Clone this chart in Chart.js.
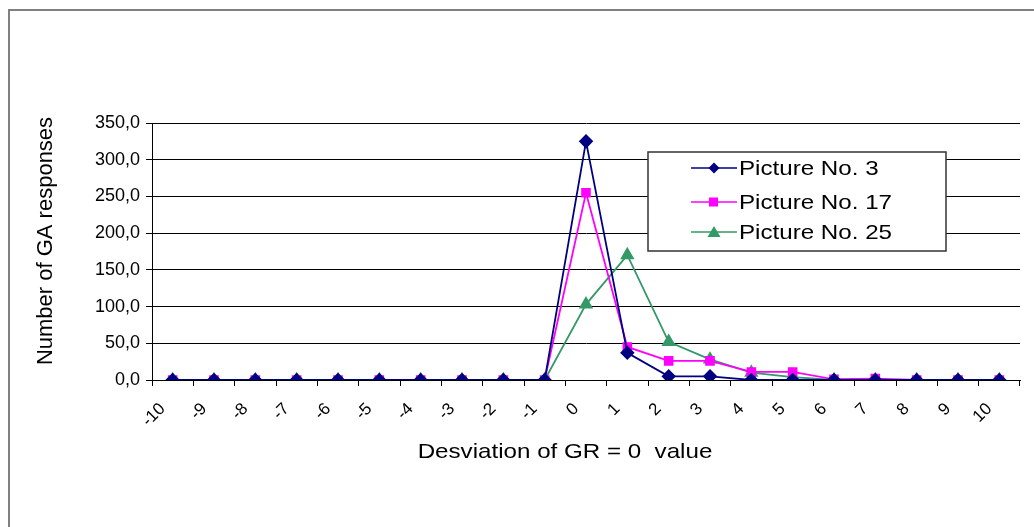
<!DOCTYPE html>
<html lang="en">
<head>
    <meta charset="UTF-8">
    <title>GA responses</title>
    <script src="https://cdn.jsdelivr.net/npm/chart.js"></script>
    <style>
        body {
            margin: 0;
            overflow: hidden;
            background: #fff;
        }
        #wrap {
            position: relative;
            width: 1034px;
            height: 527px;
            overflow: hidden;
        }
        #frame {
            position: absolute;
            left: 8px;
            top: 9px;
            width: 2000px;
            height: 2000px;
            border: 2px solid #808080;
        }
        #myChart {
            position: absolute;
            left: 0;
            top: 0;
        }
    </style>
</head>
<body>
    <div id="wrap">
        <div id="frame"></div>
        <canvas id="myChart" width="1034" height="527"></canvas>
    </div>

    <script>
        const categories = ['-10', '-9', '-8', '-7', '-6', '-5', '-4', '-3', '-2', '-1', '0', '1', '2', '3', '4', '5', '6', '7', '8', '9', '10'];
        const picture3 = [0, 0, 0, 0, 0, 0, 0, 0, 0, 0, 325, 37, 5, 5, 0, 0, 0, 0, 0, 0, 0];
        const picture17 = [0, 0, 0, 0, 0, 0, 0, 0, 0, 0, 255, 45, 26, 26, 11, 11, 1, 2, 0, 0, 0];
        const picture25 = [0, 0, 0, 0, 0, 0, 0, 0, 0, 0, 103, 170, 52, 28, 10, 4, 0, 0, 0, 0, 0];
        const yTicks = [0, 50, 100, 150, 200, 250, 300, 350];

        const font = 'Liberation Sans, Arial, sans-serif';
        // the original picture is a bit wider than tall, so stretch drawn text a little
        const stretch = 1.15;

        // axis titles and the boxed legend inside the plot
        const extras = {
            id: 'extras',
            afterDatasetsDraw(chart) {
                const c = chart.ctx;
                c.save();
                c.fillStyle = '#000';
                c.font = '21px ' + font;
                c.textAlign = 'center';
                c.textBaseline = 'middle';
                c.save();
                c.translate(565, 452);
                c.scale(stretch, 1);
                c.fillText('Desviation of GR = 0  value', 0, 0);
                c.restore();
                c.font = '22px ' + font;
                c.translate(46, 241);
                c.rotate(-Math.PI / 2);
                c.fillText('Number of GA responses', 0, 0);
                c.restore();

                c.save();
                c.fillStyle = '#fff';
                c.fillRect(648, 152, 298, 99);
                c.strokeStyle = '#333';
                c.lineWidth = 1.5;
                c.strokeRect(648, 152, 298, 99);
                c.font = '21px ' + font;
                c.textBaseline = 'middle';
                c.textAlign = 'left';
                const rows = [168, 202, 232];
                chart.data.datasets.forEach((ds, i) => {
                    const y = rows[i];
                    c.strokeStyle = ds.borderColor;
                    c.lineWidth = 1.5;
                    c.beginPath();
                    c.moveTo(691, y);
                    c.lineTo(737, y);
                    c.stroke();
                    c.fillStyle = ds.borderColor;
                    c.beginPath();
                    if (ds.pointStyle === 'rectRot') {
                        c.moveTo(714, y - 5.5); c.lineTo(719.5, y); c.lineTo(714, y + 5.5); c.lineTo(708.5, y);
                    } else if (ds.pointStyle === 'rect') {
                        c.rect(709, y - 4.5, 9, 9);
                    } else {
                        c.moveTo(714, y - 6); c.lineTo(720.5, y + 5); c.lineTo(707.5, y + 5);
                    }
                    c.closePath();
                    c.fill();
                    c.fillStyle = '#000';
                    c.save();
                    c.translate(739, y + 1);
                    c.scale(stretch, 1);
                    c.fillText(ds.label, 0, 0);
                    c.restore();
                });
                c.restore();
            }
        };

        const ctx = document.getElementById('myChart').getContext('2d');
        const myChart = new Chart(ctx, {
            type: 'line',
            data: {
                labels: categories,
                datasets: [{
                    label: 'Picture No. 3',
                    data: picture3,
                    borderColor: '#000080',
                    backgroundColor: '#000080',
                    borderWidth: 1.8,
                    pointStyle: 'rectRot',
                    pointRadius: 6,
                    tension: 0
                }, {
                    label: 'Picture No. 17',
                    data: picture17,
                    borderColor: '#ff00ff',
                    backgroundColor: '#ff00ff',
                    borderWidth: 1.8,
                    pointStyle: 'rect',
                    pointRadius: 5.5,
                    tension: 0
                }, {
                    label: 'Picture No. 25',
                    data: picture25,
                    borderColor: '#339966',
                    backgroundColor: '#339966',
                    borderWidth: 1.8,
                    pointStyle: 'triangle',
                    pointRadius: 6.5,
                    tension: 0
                }]
            },
            options: {
                responsive: false,
                animation: false,
                devicePixelRatio: 1,
                layout: {
                    padding: { left: 0, top: 123, right: 14, bottom: 0 }
                },
                plugins: {
                    legend: { display: false },
                    tooltip: { enabled: false }
                },
                scales: {
                    x: {
                        offset: true,
                        afterFit(scale) { scale.height = 147; },
                        grid: {
                            offset: true,
                            drawOnChartArea: false,
                            drawTicks: true,
                            tickLength: 6,
                            color: '#000'
                        },
                        border: { color: '#000', width: 1 },
                        ticks: {
                            minRotation: 45,
                            maxRotation: 45,
                            autoSkip: false,
                            padding: 13,
                            labelOffset: -10,
                            color: '#000',
                            font: { family: font, size: 17 }
                        }
                    },
                    y: {
                        min: 0,
                        max: 350,
                        afterFit(scale) { scale.width = 152; },
                        afterBuildTicks(scale) {
                            scale.ticks = yTicks.map(v => ({ value: v }));
                        },
                        grid: {
                            color: '#000',
                            lineWidth: 1,
                            tickLength: 6
                        },
                        border: { color: '#000', width: 1 },
                        ticks: {
                            padding: 6,
                            color: '#000',
                            font: { family: font, size: 18 },
                            callback: v => v.toFixed(1).replace('.', ',')
                        }
                    }
                }
            },
            plugins: [extras]
        });
    </script>
</body>
</html>
